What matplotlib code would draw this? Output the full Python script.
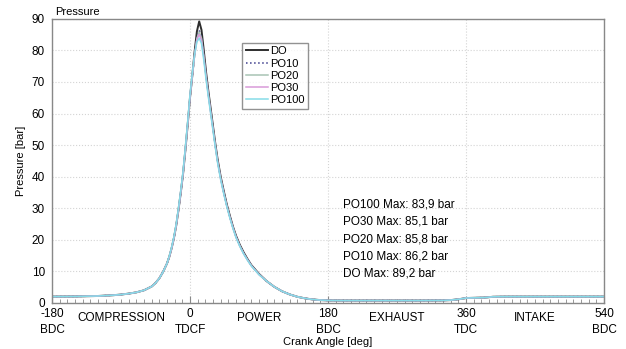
import numpy as np
import matplotlib
matplotlib.use('Agg')
import matplotlib.pyplot as plt
from matplotlib.ticker import MultipleLocator

plt.rcParams['font.family'] = ['Liberation Sans', 'DejaVu Sans']

# Góc quay trục khuỷu (deg): kỳ nén, vùng cháy, phần đuôi
crank_head = [-180, -150, -120, -100, -90, -80, -70, -60, -50, -45, -40, -35, -30]
crank_mid = [-27, -24, -21, -18, -15, -12, -9, -6, -3, 0, 3, 6, 9, 12, 15, 18, 21,
             24, 27, 30, 33, 36, 40, 44, 48, 52, 56, 60, 65, 70, 75, 80, 90]
crank_tail = [100, 110, 120, 130, 140, 150, 160, 170, 180, 200, 250, 300, 330,
              340, 350, 360, 375, 385, 395, 410, 450, 540]

# Áp suất (bar) - phần chung cho mọi nhiên liệu
p_head = [2.0, 2.05, 2.2, 2.45, 2.65, 2.95, 3.35, 4.0, 5.2, 6.3, 7.8, 9.9, 12.5]
p_tail = [6.9, 5.1, 3.7, 2.7, 1.95, 1.45, 1.1, 0.9, 0.8, 0.75, 0.75, 0.75, 0.8,
          0.9, 1.15, 1.55, 1.65, 1.7, 1.95, 2.0, 2.0, 2.0]

# Áp suất (bar) - vùng cháy của từng nhiên liệu
p_do = [14.6, 17.3, 20.5, 24.5, 29.5, 35, 41, 48.5, 56.5, 65, 72, 79.5, 86, 89.2,
        86.5, 80, 73, 67, 61.5, 56, 50.5, 45.5, 40, 35.5, 31.2, 27.6, 24.2, 21.3,
        18.4, 16.0, 13.9, 12.0, 9.2]
p_po10 = [14.6, 17.3, 20.5, 24.5, 29.5, 35, 41, 48.5, 56.5, 65, 71.7, 78.6, 84.2,
          86.2, 84.3, 78.6, 72, 66.2, 60.8, 55.4, 50, 45.1, 39.6, 35.1, 30.9, 27.3,
          24.0, 21.1, 18.2, 15.8, 13.8, 11.9, 9.1]
p_po20 = [14.6, 17.3, 20.5, 24.5, 29.5, 35, 41, 48.5, 56.5, 65, 71.6, 78.4, 83.8,
          85.8, 83.9, 78.3, 71.8, 66.0, 60.6, 55.2, 49.8, 44.9, 39.5, 35.0, 30.8,
          27.2, 23.9, 21.0, 18.1, 15.7, 13.7, 11.85, 9.05]
p_po30 = [14.6, 17.3, 20.5, 24.6, 29.6, 35.1, 41.2, 48.8, 56.8, 65.3, 72.0, 78.5,
          83.4, 85.1, 83.2, 77.8, 71.4, 65.7, 60.3, 55.0, 49.6, 44.7, 39.3, 34.8,
          30.7, 27.1, 23.8, 20.9, 18.0, 15.6, 13.6, 11.8, 9.0]
p_po100 = [14.8, 17.6, 20.9, 25.0, 30.1, 35.7, 41.8, 49.4, 57.5, 66, 72.8, 78.7,
           82.7, 83.9, 82.2, 76.9, 70.7, 65.2, 59.9, 54.6, 49.3, 44.4, 39.0, 34.6,
           30.5, 26.9, 23.6, 20.7, 17.9, 15.5, 13.5, 11.7, 8.95]

crank = crank_head + crank_mid + crank_tail

series = [
    ('DO', p_do, '#2e2e2e', '-'),
    ('PO10', p_po10, '#3c3c8c', ':'),
    ('PO20', p_po20, '#a8c4b4', '-'),
    ('PO30', p_po30, '#d89ad8', '-'),
    ('PO100', p_po100, '#86dce8', '-'),
]

max_labels = ['PO100 Max: 83,9 bar', 'PO30 Max: 85,1 bar', 'PO20 Max: 85,8 bar',
              'PO10 Max: 86,2 bar', 'DO Max: 89,2 bar']

tick_pos = [-180, 0, 180, 360, 540]
tick_text = ['-180\nBDC', '0\nTDCF', '180\nBDC', '360\nTDC', '540\nBDC']
phase_pos = [-90, 90, 270, 450]
phase_text = ['COMPRESSION', 'POWER', 'EXHAUST', 'INTAKE']

fig = plt.figure(figsize=(6.26, 3.49), dpi=100)
ax = fig.add_axes([0.083, 0.132, 0.882, 0.814])

for name, vals, col, ls in series:
    lw = 1.4 if name == 'DO' else 1.1
    ax.plot(crank, p_head + vals + p_tail, color=col, linestyle=ls, linewidth=lw,
            label=name)

ax.set_xlim(-180, 540)
ax.set_ylim(0, 90)
ax.set_yticks(np.arange(0, 91, 10))
ax.set_xticks(tick_pos)
ax.set_xticklabels(tick_text)
ax.xaxis.set_minor_locator(MultipleLocator(10))
ax.tick_params(axis='x', which='major', direction='in', length=5, color='#888888',
               labelsize=8.5, pad=4)
ax.tick_params(axis='x', which='minor', direction='in', length=3, color='#888888')
ax.tick_params(axis='y', length=0, labelsize=8.5, pad=5)

for lbl in ax.get_xticklabels():
    lbl.set_linespacing(1.35)

for x, t in zip(phase_pos, phase_text):
    ax.text(x, -0.031, t, transform=ax.get_xaxis_transform(), ha='center', va='top',
            fontsize=8.5)

ax.grid(axis='y', linestyle=':', color='#d4d4d4', linewidth=0.8)
ax.grid(axis='x', which='major', linestyle=':', color='#d4d4d4', linewidth=0.8)
for s in ax.spines.values():
    s.set_color('#888888')
    s.set_linewidth(1.0)

ax.set_xlabel('Crank Angle [deg]', fontsize=8)
ax.xaxis.set_label_coords(0.5, -0.12)
ax.set_ylabel('Pressure [bar]', fontsize=8)
ax.text(0.005, 1.005, 'Pressure', transform=ax.transAxes, ha='left', va='bottom',
        fontsize=8)

leg = ax.legend(loc='upper left', bbox_to_anchor=(0.345, 0.915), fontsize=8,
                frameon=True, fancybox=False, edgecolor='#777777',
                handlelength=2.0, handletextpad=0.2, labelspacing=0.2,
                borderpad=0.3, borderaxespad=0)
leg.get_frame().set_linewidth(1.0)

for i, t in enumerate(max_labels):
    ax.text(0.527, 0.345 - i * 0.06, t, transform=ax.transAxes, ha='left',
            va='center', fontsize=8.5)

fig.savefig('out.png', dpi=100)
